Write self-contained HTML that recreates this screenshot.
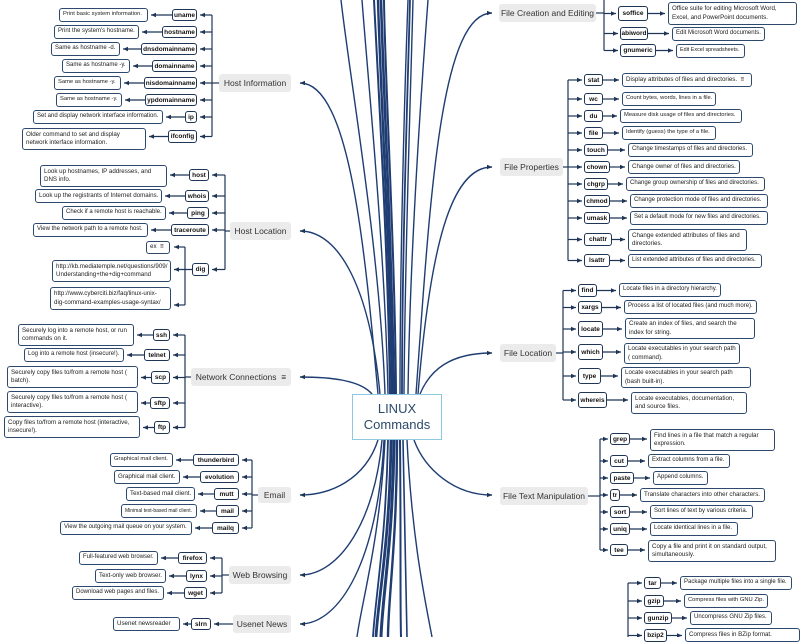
<!DOCTYPE html>
<html><head><meta charset="utf-8"><style>
*{box-sizing:border-box;margin:0;padding:0}
body{width:800px;height:637px;overflow:hidden;background:#fff;position:relative;font-family:"Liberation Sans",sans-serif}
.c,.d,.t{position:absolute;display:flex;align-items:center}
.c{border:1.5px solid #1f3556;border-radius:3px;font-weight:bold;font-size:6.5px;justify-content:center;color:#111;background:#fff;white-space:nowrap}
.d{border:1px solid #2d4a6e;border-radius:3px;font-size:6.2px;padding:0 3px;color:#222;line-height:1.3;background:#fff;overflow:hidden}
.t{background:#ebebeb;border-radius:3px;font-size:8.5px;color:#333;justify-content:center;white-space:nowrap}
svg{position:absolute;left:0;top:0}
#ctr{position:absolute;left:352px;top:394px;width:90px;height:46px;border:1.5px solid #8cc8e0;background:#fff;display:flex;align-items:center;justify-content:center;text-align:center;font-size:13px;color:#2b4a6b;line-height:1.25}
</style></head><body>
<svg id="s" width="800" height="637">
<defs><marker id="a" markerWidth="6" markerHeight="6" refX="5" refY="3" orient="auto" markerUnits="userSpaceOnUse"><path d="M0,0.8 L5,3 L0,5.2z" fill="#1f3556"/></marker></defs>
<g fill="none" stroke="#1f3d73" stroke-width="1.4">
<path d="M385,394 C380,250 350,80 341,0"/>
<path d="M388,394 C385,250 368,80 362,0"/>
<path d="M390,394 C388,250 378,80 374,0" stroke-width="2"/>
<path d="M392,394 C390,250 380,80 378,0" stroke-width="2.4"/>
<path d="M394,394 C392,250 383,80 381,0" stroke-width="2.6"/>
<path d="M396,394 C395,250 385,80 384,0" stroke-width="2"/>
<path d="M400,394 C400,250 405,80 408,0"/>
<path d="M402,394 C402,250 408,80 410,0" stroke-width="1.8"/>
<path d="M404,394 C405,250 411,80 413,0"/>
<path d="M408,394 C410,250 422,80 428,0"/>
<path d="M385,440 C380,540 362,600 357,637"/>
<path d="M388,440 C386,540 375,600 373,637" stroke-width="1.8"/>
<path d="M391,440 C390,540 378,600 376,637" stroke-width="2.8"/>
<path d="M394,440 C393,540 382,600 381,637" stroke-width="3"/>
<path d="M397,440 C397,540 388,600 388,637" stroke-width="2.4"/>
<path d="M400,440 C401,540 400,600 401,637" stroke-width="2"/>
<path d="M403,440 C405,540 406,600 407,637" stroke-width="1.6"/>
<path d="M407,440 C412,540 425,600 432,637"/>
<g marker-end="url(#a)">
<path d="M378,394 C365,250 350,83 300,83"/>
<path d="M380,394 C370,290 340,231 300,231"/>
<path d="M372,394 C360,380 330,377 300,377"/>
<path d="M378,440 C365,480 330,495 300,495"/>
<path d="M382,440 C375,520 340,575 300,575"/>
<path d="M384,440 C378,560 340,624 300,624"/>
<path d="M416,394 C430,200 440,13 492,13"/>
<path d="M418,394 C430,250 450,167 492,167"/>
<path d="M420,394 C430,370 450,353 492,353"/>
<path d="M414,440 C425,470 455,495 492,495"/>
</g></g>
<g id="cn" fill="none" stroke="#1f3556" stroke-width="1.2"></g>
</svg>

<div id="ctr">LINUX<br>Commands</div>

<div class="g">
<div class="t" style="left:219px;top:74px;width:72px;height:18px">Host Information</div>
<div class="c" style="left:172px;top:9px;width:25px;height:12px">uname</div><div class="d" style="left:59px;top:8px;width:89px;height:14px">Print basic system information.</div>
<div class="c" style="left:162px;top:26px;width:35px;height:12px">hostname</div><div class="d" style="left:54px;top:25px;width:85px;height:14px">Print the system's hostname.</div>
<div class="c" style="left:141px;top:43px;width:56px;height:12px">dnsdomainname</div><div class="d" style="left:51px;top:42px;width:69px;height:14px">Same as hostname -d.</div>
<div class="c" style="left:152px;top:60px;width:45px;height:12px">domainname</div><div class="d" style="left:62px;top:59px;width:68px;height:14px">Same as hostname -y.</div>
<div class="c" style="left:144px;top:77px;width:53px;height:12px">nisdomainname</div><div class="d" style="left:54px;top:76px;width:67px;height:14px">Same as hostname -y.</div>
<div class="c" style="left:145px;top:94px;width:52px;height:12px">ypdomainname</div><div class="d" style="left:56px;top:93px;width:66px;height:14px">Same as hostname -y.</div>
<div class="c" style="left:185px;top:111px;width:12px;height:12px">ip</div><div class="d" style="left:33px;top:110px;width:130px;height:14px">Set and display network interface information.</div>
<div class="c" style="left:168px;top:130px;width:29px;height:13px">ifconfig</div><div class="d" style="left:22px;top:128px;width:124px;height:22px">Older command to set and display network interface information.</div>
</div>

<div class="g">
<div class="t" style="left:230px;top:222px;width:61px;height:18px">Host Location</div>
<div class="c" style="left:189px;top:169px;width:20px;height:12px">host</div><div class="d" style="left:40px;top:165px;width:127px;height:22px">Look up hostnames, IP addresses, and DNS info.</div>
<div class="c" style="left:185px;top:190px;width:24px;height:12px">whois</div><div class="d" style="left:35px;top:189px;width:127px;height:14px">Look up the registrants of Internet domains.</div>
<div class="c" style="left:187px;top:207px;width:22px;height:12px">ping</div><div class="d" style="left:62px;top:206px;width:104px;height:14px">Check if a remote host is reachable.</div>
<div class="c" style="left:171px;top:224px;width:38px;height:12px">traceroute</div><div class="d" style="left:33px;top:223px;width:115px;height:14px">View the network path to a remote host.</div>
<div class="c" style="left:192px;top:263px;width:17px;height:13px">dig</div><div class="d" style="left:52px;top:260px;width:119px;height:22px">http://kb.mediatemple.net/questions/909/ Understanding+the+dig+command</div>
</div>
<div class="d" style="left:146px;top:241px;width:24px;height:13px">ex &nbsp;≡</div>
<div class="d" style="left:50px;top:287px;width:121px;height:23px">http://www.cyberciti.biz/faq/linux-unix-dig-command-examples-usage-syntax/</div>

<div class="g">
<div class="t" style="left:191px;top:368px;width:100px;height:18px">Network Connections &nbsp;≡</div>
<div class="c" style="left:153px;top:329px;width:17px;height:12px">ssh</div><div class="d" style="left:18px;top:324px;width:116px;height:22px">Securely log into a remote host, or run commands on it.</div>
<div class="c" style="left:144px;top:349px;width:26px;height:12px">telnet</div><div class="d" style="left:24px;top:348px;width:100px;height:14px">Log into a remote host (insecure!).</div>
<div class="c" style="left:151px;top:371px;width:19px;height:13px">scp</div><div class="d" style="left:7px;top:366px;width:131px;height:22px">Securely copy files to/from a remote host ( batch).</div>
<div class="c" style="left:150px;top:397px;width:20px;height:12px">sftp</div><div class="d" style="left:7px;top:391px;width:131px;height:22px">Securely copy files to/from a remote host ( interactive).</div>
<div class="c" style="left:154px;top:421px;width:16px;height:13px">ftp</div><div class="d" style="left:4px;top:416px;width:136px;height:22px">Copy files to/from a remote host (interactive, insecure!).</div>
</div>

<div class="g">
<div class="t" style="left:258px;top:487px;width:33px;height:16px">Email</div>
<div class="c" style="left:193px;top:454px;width:46px;height:12px">thunderbird</div><div class="d" style="left:110px;top:453px;width:63px;height:14px">Graphical mail client.</div>
<div class="c" style="left:200px;top:471px;width:39px;height:12px">evolution</div><div class="d" style="left:114px;top:470px;width:66px;height:14px">Graphical mail client.</div>
<div class="c" style="left:214px;top:488px;width:25px;height:12px">mutt</div><div class="d" style="left:126px;top:487px;width:69px;height:14px">Text-based mail client.</div>
<div class="c" style="left:216px;top:505px;width:23px;height:12px">mail</div><div class="d" style="left:121px;top:504px;width:76px;height:14px">Minimal text-based mail client.</div>
<div class="c" style="left:212px;top:522px;width:27px;height:12px">mailq</div><div class="d" style="left:60px;top:521px;width:132px;height:14px">View the outgoing mail queue on your system.</div>
</div>

<div class="g">
<div class="t" style="left:229px;top:566px;width:62px;height:18px">Web Browsing</div>
<div class="c" style="left:178px;top:552px;width:29px;height:12px">firefox</div><div class="d" style="left:79px;top:551px;width:79px;height:14px">Full-featured web browser.</div>
<div class="c" style="left:186px;top:570px;width:21px;height:12px">lynx</div><div class="d" style="left:95px;top:569px;width:71px;height:14px">Text-only web browser.</div>
<div class="c" style="left:184px;top:587px;width:23px;height:12px">wget</div><div class="d" style="left:72px;top:586px;width:92px;height:14px">Download web pages and files.</div>
</div>

<div class="g">
<div class="t" style="left:233px;top:615px;width:58px;height:18px">Usenet News</div>
<div class="c" style="left:191px;top:618px;width:20px;height:12px">slrn</div><div class="d" style="left:113px;top:617px;width:67px;height:14px">Usenet newsreader</div>
</div>

<div class="g">
<div class="t" style="left:499px;top:4px;width:97px;height:18px">File Creation and Editing</div>
<div class="c" style="left:618px;top:6px;width:30px;height:15px">soffice</div><div class="d" style="left:668px;top:2px;width:129px;height:23px">Office suite for editing Microsoft Word, Excel, and PowerPoint documents.</div>
<div class="c" style="left:620px;top:27px;width:28px;height:13px">abiword</div><div class="d" style="left:672px;top:27px;width:93px;height:14px">Edit Microsoft Word documents.</div>
<div class="c" style="left:620px;top:44px;width:36px;height:13px">gnumeric</div><div class="d" style="left:676px;top:44px;width:69px;height:14px">Edit Excel spreadsheets.</div>
</div>

<div class="g">
<div class="t" style="left:500px;top:158px;width:63px;height:18px">File Properties</div>
<div class="c" style="left:584px;top:74px;width:19px;height:12px">stat</div><div class="d" style="left:622px;top:73px;width:130px;height:14px">Display attributes of files and directories. &nbsp;≡</div>
<div class="c" style="left:584px;top:93px;width:19px;height:12px">wc</div><div class="d" style="left:622px;top:92px;width:94px;height:14px">Count bytes, words, lines in a file.</div>
<div class="c" style="left:584px;top:110px;width:19px;height:12px">du</div><div class="d" style="left:620px;top:109px;width:122px;height:14px">Measure disk usage of files and directories.</div>
<div class="c" style="left:584px;top:127px;width:19px;height:12px">file</div><div class="d" style="left:622px;top:126px;width:94px;height:14px">Identify (guess) the type of a file.</div>
<div class="c" style="left:584px;top:144px;width:24px;height:12px">touch</div><div class="d" style="left:628px;top:143px;width:125px;height:14px">Change timestamps of files and directories.</div>
<div class="c" style="left:584px;top:161px;width:26px;height:12px">chown</div><div class="d" style="left:628px;top:160px;width:112px;height:14px">Change owner of files and directories.</div>
<div class="c" style="left:584px;top:178px;width:24px;height:12px">chgrp</div><div class="d" style="left:626px;top:177px;width:139px;height:14px">Change group ownership of files and directories.</div>
<div class="c" style="left:584px;top:195px;width:26px;height:12px">chmod</div><div class="d" style="left:630px;top:194px;width:138px;height:14px">Change protection mode of files and directories.</div>
<div class="c" style="left:584px;top:212px;width:26px;height:12px">umask</div><div class="d" style="left:630px;top:211px;width:138px;height:14px">Set a default mode for new files and directories.</div>
<div class="c" style="left:584px;top:233px;width:28px;height:13px">chattr</div><div class="d" style="left:628px;top:229px;width:119px;height:22px">Change extended attributes of files and directories.</div>
<div class="c" style="left:584px;top:254px;width:26px;height:13px">lsattr</div><div class="d" style="left:628px;top:254px;width:134px;height:14px">List extended attributes of files and directories.</div>
</div>

<div class="g">
<div class="t" style="left:500px;top:344px;width:56px;height:18px">File Location</div>
<div class="c" style="left:578px;top:284px;width:19px;height:13px">find</div><div class="d" style="left:619px;top:283px;width:102px;height:14px">Locate files in a directory hierarchy.</div>
<div class="c" style="left:578px;top:301px;width:24px;height:13px">xargs</div><div class="d" style="left:624px;top:300px;width:133px;height:14px">Process a list of located files (and much more).</div>
<div class="c" style="left:578px;top:321px;width:25px;height:16px">locate</div><div class="d" style="left:625px;top:318px;width:130px;height:21px">Create an index of files, and search the index for string.</div>
<div class="c" style="left:578px;top:344px;width:25px;height:16px">which</div><div class="d" style="left:624px;top:343px;width:116px;height:21px">Locate executables in your search path ( command).</div>
<div class="c" style="left:578px;top:368px;width:23px;height:16px">type</div><div class="d" style="left:621px;top:367px;width:130px;height:21px">Locate executables in your search path (bash built-in).</div>
<div class="c" style="left:578px;top:392px;width:29px;height:16px">whereis</div><div class="d" style="left:631px;top:392px;width:116px;height:22px">Locate executables, documentation, and source files.</div>
</div>

<div class="g">
<div class="t" style="left:500px;top:487px;width:88px;height:18px">File Text Manipulation</div>
<div class="c" style="left:610px;top:433px;width:20px;height:12px">grep</div><div class="d" style="left:650px;top:429px;width:125px;height:22px">Find lines in a file that match a regular expression.</div>
<div class="c" style="left:610px;top:455px;width:18px;height:12px">cut</div><div class="d" style="left:648px;top:454px;width:82px;height:14px">Extract columns from a file.</div>
<div class="c" style="left:610px;top:472px;width:24px;height:12px">paste</div><div class="d" style="left:653px;top:471px;width:55px;height:14px">Append columns.</div>
<div class="c" style="left:610px;top:489px;width:10px;height:12px">tr</div><div class="d" style="left:640px;top:488px;width:125px;height:14px">Translate characters into other characters.</div>
<div class="c" style="left:610px;top:506px;width:20px;height:12px">sort</div><div class="d" style="left:650px;top:505px;width:103px;height:14px">Sort lines of text by various criteria.</div>
<div class="c" style="left:610px;top:523px;width:20px;height:12px">uniq</div><div class="d" style="left:650px;top:522px;width:88px;height:14px">Locate identical lines in a file.</div>
<div class="c" style="left:610px;top:544px;width:18px;height:12px">tee</div><div class="d" style="left:648px;top:540px;width:128px;height:22px">Copy a file and print it on standard output, simultaneously.</div>
</div>

<div class="g">
<div class="c" style="left:644px;top:577px;width:17px;height:12px">tar</div><div class="d" style="left:680px;top:576px;width:112px;height:14px">Package multiple files into a single file.</div>
<div class="c" style="left:644px;top:595px;width:20px;height:12px">gzip</div><div class="d" style="left:684px;top:594px;width:84px;height:14px">Compress files with GNU Zip.</div>
<div class="c" style="left:644px;top:612px;width:28px;height:12px">gunzip</div><div class="d" style="left:690px;top:611px;width:82px;height:14px">Uncompress GNU Zip files.</div>
<div class="c" style="left:644px;top:629px;width:23px;height:13px">bzip2</div><div class="d" style="left:685px;top:628px;width:115px;height:14px">Compress files in BZip format.</div>
</div>

<script>
document.querySelectorAll('.d').forEach(function(d){
 var one=d.offsetHeight<=16; if(one)d.style.whiteSpace='nowrap';
 var fs=6.2;
 for(var k=0;k<20;k++){
  if(one){if(d.scrollWidth<=d.clientWidth)break;}
  else{if(d.scrollHeight<=d.clientHeight+1&&d.scrollWidth<=d.clientWidth)break;}
  fs-=0.2;d.style.fontSize=fs+'px';
 }
});
document.querySelectorAll('.c').forEach(function(d){var fs=6.5;for(var k=0;k<15&&d.scrollWidth>d.clientWidth;k++){fs-=0.25;d.style.fontSize=fs+'px';}});
var NS="http://www.w3.org/2000/svg",cn=document.getElementById('cn');
function ln(d,arrow){var p=document.createElementNS(NS,'path');p.setAttribute('d',d);if(arrow)p.setAttribute('marker-end','url(#a)');cn.appendChild(p);}
var cfg=[['L',212],['L',225],['L',185],['L',252],['L',222],['L',222],['R',604],['R',568],['R',563],['R',600],['R',628]];
var gs=document.querySelectorAll('.g');
gs.forEach(function(g,i){
 var side=cfg[i][0],bx=cfg[i][1],cs=g.querySelectorAll('.c'),t=g.querySelector('.t'),ys=[];
 cs.forEach(function(c){
  var l=c.offsetLeft,w=c.offsetWidth,y=c.offsetTop+c.offsetHeight/2,d=c.nextElementSibling;ys.push(y);
  if(side=='L'){ln('M'+bx+','+y+' L'+(l+w+3)+','+y,1);ln('M'+l+','+y+' L'+(d.offsetLeft+d.offsetWidth+3)+','+y,1);}
  else{ln('M'+bx+','+y+' L'+(l-2)+','+y,1);ln('M'+(l+w)+','+y+' L'+(d.offsetLeft-3)+','+y,1);}
 });
 var ty=t?t.offsetTop+t.offsetHeight/2:640;
 var mn=Math.min.apply(0,ys.concat([ty])),mx=Math.max.apply(0,ys.concat([ty]));
 if(i==6)mn=0; if(i==10)mx=637;
 if(ys.length>1||t)ln('M'+bx+','+mn+' L'+bx+','+mx);
 if(t){if(side=='L')ln('M'+t.offsetLeft+','+ty+' L'+bx+','+ty);else ln('M'+(t.offsetLeft+t.offsetWidth)+','+ty+' L'+bx+','+ty);}
});
ln('M185,247 L185,305');ln('M185,247 L174,247',1);ln('M185,305 L174,305',1);
</script>
</body></html>
